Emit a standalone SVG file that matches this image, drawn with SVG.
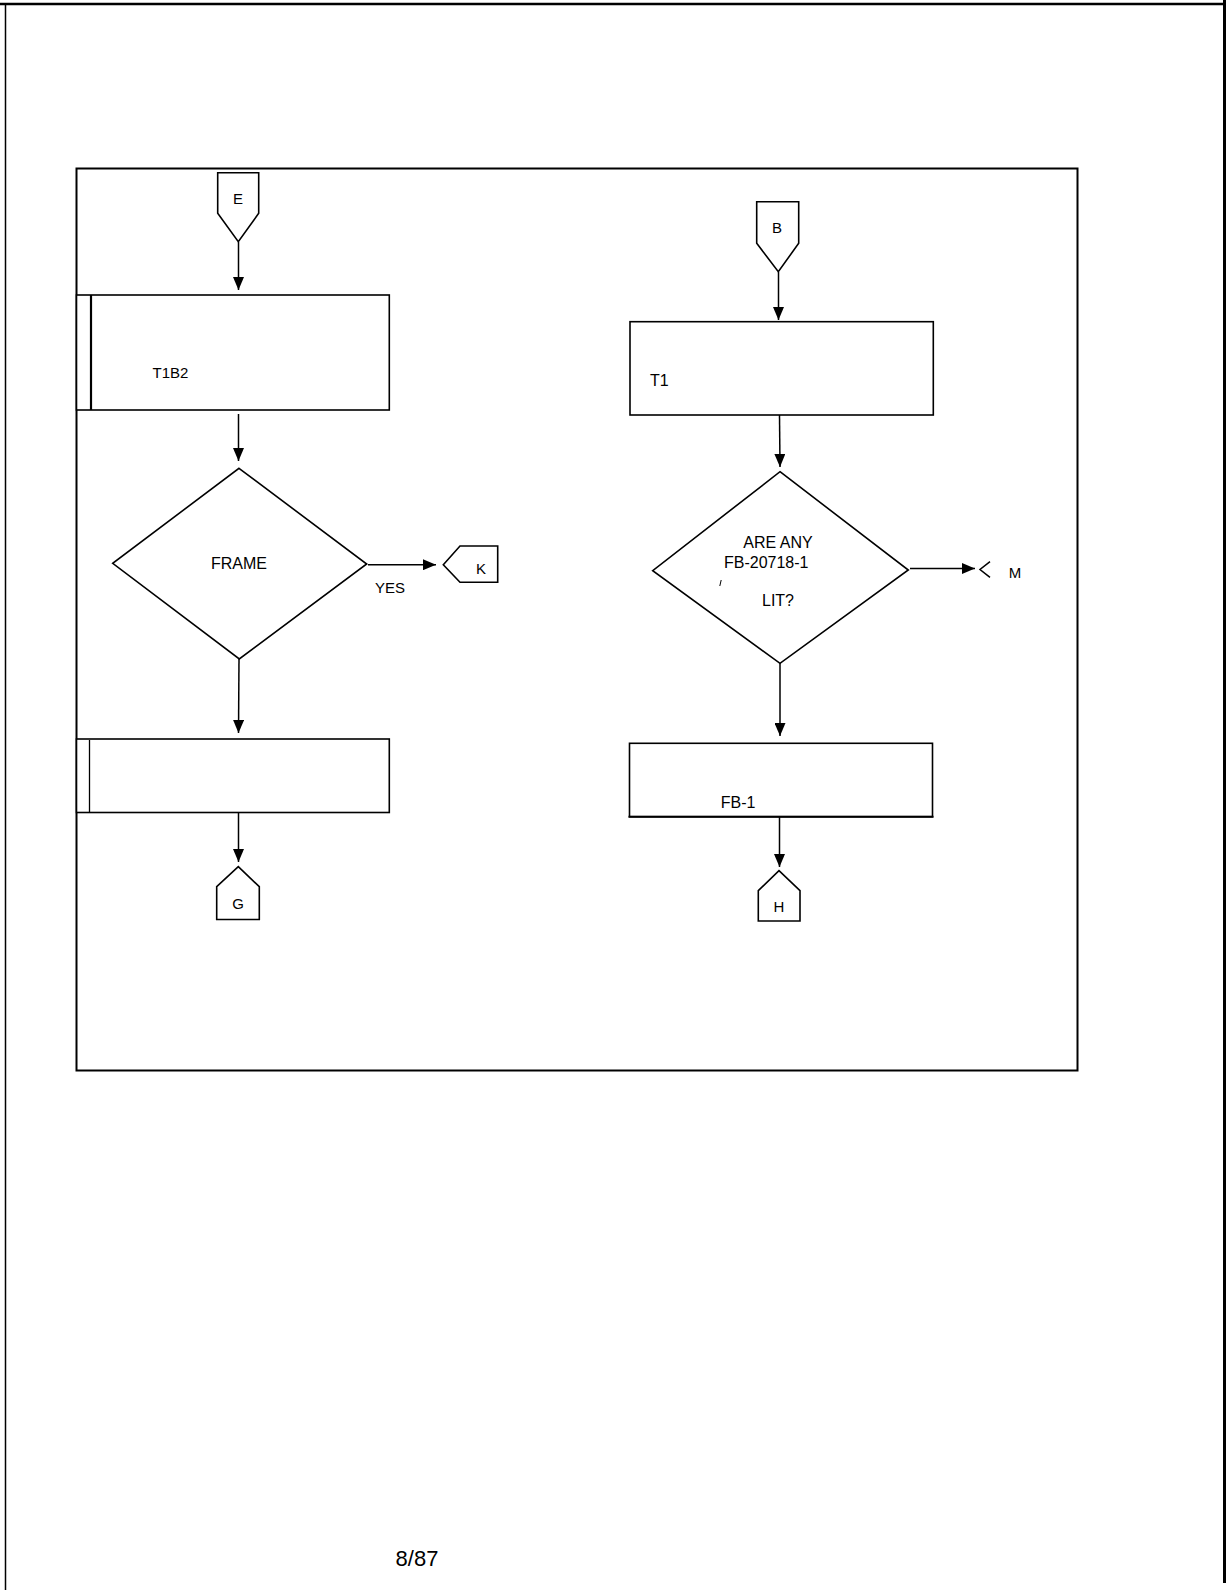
<svg xmlns="http://www.w3.org/2000/svg" width="1226" height="1590" viewBox="0 0 1226 1590">
<style>
.ln{stroke:#000;fill:none;stroke-width:1.5}
.bx{stroke:#000;fill:#fff;stroke-width:1.6}
.t{font-family:"Liberation Sans",Arial,sans-serif;font-size:15px;fill:#000}
.t16{font-family:"Liberation Sans",Arial,sans-serif;font-size:16px;fill:#000}
.mid{text-anchor:middle}
</style>
<defs>
<marker id="ah" markerUnits="userSpaceOnUse" markerWidth="13" markerHeight="11" refX="13" refY="5.5" orient="auto">
<path d="M0,0 L13,5.5 L0,11 z" fill="#000"/>
</marker>
</defs>
<rect width="1226" height="1590" fill="#fff"/>
<g id="page">
<line x1="0" y1="4" x2="1224" y2="4" stroke="#000" stroke-width="2.5"/>
<line x1="5.5" y1="5" x2="5.5" y2="1590" stroke="#000" stroke-width="1.5"/>
<line x1="1224.5" y1="0" x2="1224.5" y2="1583" stroke="#000" stroke-width="3"/>
<rect x="76.5" y="168.5" width="1001" height="902" fill="none" stroke="#000" stroke-width="2"/>
<text class="t" x="417" y="1566" style="font-size:22px" text-anchor="middle">8/87</text>
</g>
<g id="connectors">
<line class="ln" x1="238.5" y1="242" x2="238.5" y2="290" marker-end="url(#ah)"/>
<line class="ln" x1="238.5" y1="414" x2="238.5" y2="461" marker-end="url(#ah)"/>
<line class="ln" x1="239" y1="659" x2="238.5" y2="733" marker-end="url(#ah)"/>
<line class="ln" x1="238.5" y1="813" x2="238.5" y2="862" marker-end="url(#ah)"/>
<line class="ln" x1="368" y1="564.7" x2="436" y2="564.7" marker-end="url(#ah)"/>
<text class="t mid" x="390" y="593">YES</text>
<line class="ln" x1="778.5" y1="272" x2="778.5" y2="320" marker-end="url(#ah)"/>
<line class="ln" x1="779.5" y1="415" x2="780" y2="467" marker-end="url(#ah)"/>
<line class="ln" x1="780" y1="663" x2="780" y2="736" marker-end="url(#ah)"/>
<line class="ln" x1="779.5" y1="817" x2="779.5" y2="867" marker-end="url(#ah)"/>
<line class="ln" x1="910" y1="568.5" x2="975" y2="568.5" marker-end="url(#ah)"/>
</g>
<g id="node-E">
<polygon class="bx" points="217.7,172.7 258.7,172.7 258.7,213.3 238.3,241.7 217.7,213.3"/>
<text class="t mid" x="238" y="204">E</text>
</g>
<g id="node-box1">
<rect class="bx" x="76.5" y="295" width="312.8" height="115"/>
<line x1="91" y1="295" x2="91" y2="410" stroke="#000" stroke-width="2.2"/>
<text class="t" x="152.5" y="378">T1B2</text>
</g>
<g id="node-frame">
<polygon class="bx" points="239,468.3 366.7,564 239.3,659 112.7,563.3"/>
<text class="t16 mid" x="239" y="569">FRAME</text>
</g>
<g id="node-K">
<polygon class="bx" points="443.3,564.7 460,546 497.7,546 497.7,582.3 460,582.3"/>
<text class="t mid" x="481" y="573.5">K</text>
</g>
<g id="node-box2">
<rect class="bx" x="76.5" y="739" width="312.8" height="73.5"/>
<line x1="89.5" y1="740" x2="89.5" y2="813" stroke="#000" stroke-width="1.3"/>
</g>
<g id="node-G">
<polygon class="bx" points="238.3,866.7 259.3,886.7 259.3,919.5 216.7,919.5 216.7,886.7"/>
<text class="t mid" x="238" y="909">G</text>
</g>
<g id="node-B">
<polygon class="bx" points="756.7,201.7 798.7,201.7 798.7,243.3 778.3,271.7 756.7,243.3"/>
<text class="t mid" x="777" y="233.3">B</text>
</g>
<g id="node-box3">
<rect class="bx" x="630" y="321.7" width="303.3" height="93.3" stroke-width="1.8"/>
<text class="t16" x="650" y="385.7">T1</text>
</g>
<g id="node-areany">
<polygon class="bx" points="780,471.7 908.3,570 780,663.3 652.7,570.7"/>
<text class="t16 mid" x="778" y="547.7">ARE ANY</text>
<text class="t16" x="724" y="568.3">FB-20718-1</text>
<text class="t16 mid" x="778" y="605.7">LIT?</text>
<line x1="719.8" y1="586" x2="721.2" y2="580" stroke="#000" stroke-width="1"/>
</g>
<g id="node-M">
<polyline class="ln" points="990,561.7 980,569.5 990,577.3"/>
<text class="t mid" x="1015" y="577.7">M</text>
</g>
<g id="node-box4">
<rect class="bx" x="629.5" y="743.3" width="303" height="73.4"/>
<line x1="628.5" y1="816.7" x2="933.5" y2="816.7" stroke="#000" stroke-width="2"/>
<text class="t16" x="720.7" y="808.3">FB-1</text>
</g>
<g id="node-H">
<polygon class="bx" points="779,870.7 800,890.7 800,921 758.3,921 758.3,890.7"/>
<text class="t mid" x="779" y="911.7">H</text>
</g>
</svg>
